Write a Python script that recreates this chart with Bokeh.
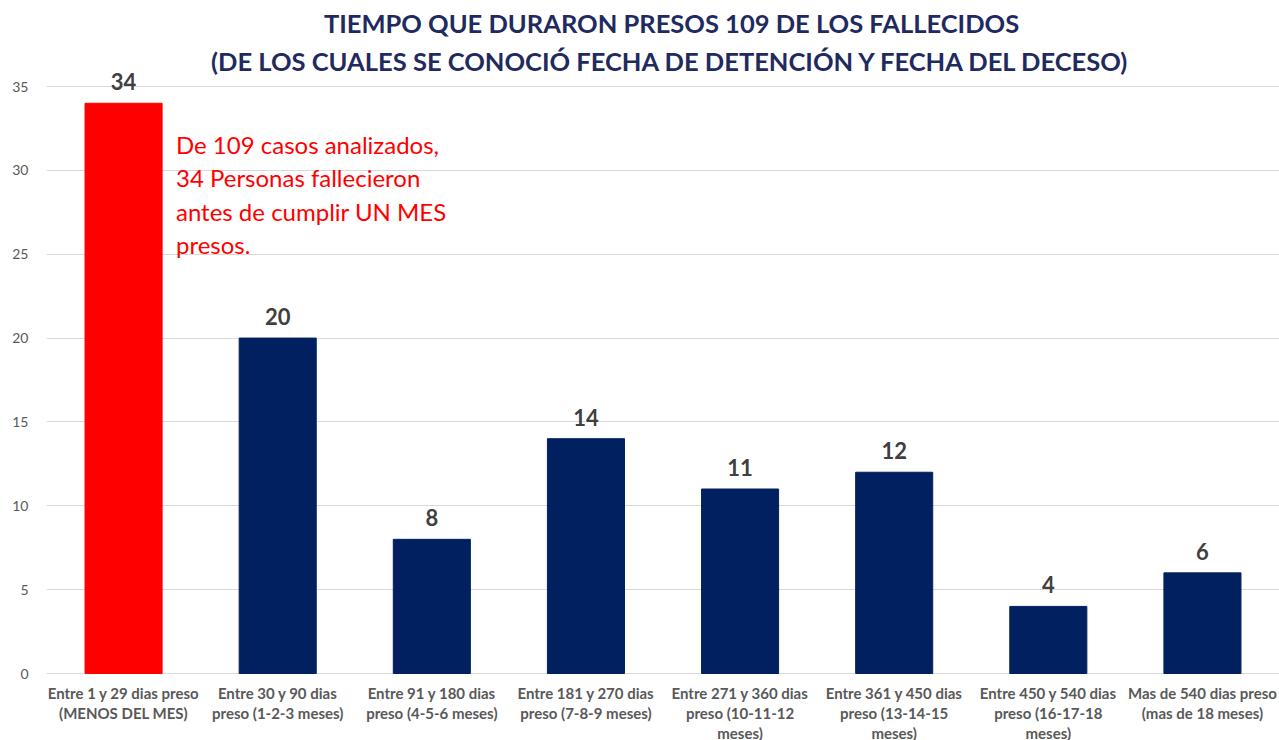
from bokeh.plotting import figure
from bokeh.models import Range1d, Label, LabelSet, ColumnDataSource, FixedTicker
from bokeh.core.properties import value
from bokeh.embed import file_html
from bokeh.resources import INLINE

categories = [
    "Entre 1 y 29 dias preso (MENOS DEL MES)",
    "Entre 30 y 90 dias preso (1-2-3 meses)",
    "Entre 91 y 180 dias preso (4-5-6 meses)",
    "Entre 181 y 270 dias preso (7-8-9 meses)",
    "Entre 271 y 360 dias preso (10-11-12 meses)",
    "Entre 361 y 450 dias preso (13-14-15 meses)",
    "Entre 450 y 540 dias preso (16-17-18 meses)",
    "Mas de 540 dias preso (mas de 18 meses)",
]
tick_labels = [
    "Entre 1 y 29 dias preso\n(MENOS DEL MES)",
    "Entre 30 y 90 dias\npreso (1-2-3 meses)",
    "Entre 91 y 180 dias\npreso (4-5-6 meses)",
    "Entre 181 y 270 dias\npreso (7-8-9 meses)",
    "Entre 271 y 360 dias\npreso (10-11-12\nmeses)",
    "Entre 361 y 450 dias\npreso (13-14-15\nmeses)",
    "Entre 450 y 540 dias\npreso (16-17-18\nmeses)",
    "Mas de 540 dias preso\n(mas de 18 meses)",
]
values = [34, 20, 8, 14, 11, 12, 4, 6]
y_ticks = [0, 5, 10, 15, 20, 25, 30, 35]
bar_colors = ["#FF0000"] + ["#002060"] * 7

title_lines = ["TIEMPO QUE DURARON PRESOS 109 DE LOS FALLECIDOS",
               "(DE LOS CUALES SE CONOCIÓ FECHA DE DETENCIÓN Y FECHA DEL DECESO)"]
note_text = ("De 109 casos analizados,\n34 Personas fallecieron\n"
             "antes de cumplir UN MES\npresos.")

FONT = "Lato"

# layout: the frame covers the whole canvas height so no text gets clipped
W, H = 1279, 740
ZERO_PX, TOP_PX = 673, 86          # pixel rows of value 0 and value 35
ppu = (ZERO_PX - TOP_PX) / y_ticks[-1]
y_start = -(H - ZERO_PX) / ppu
y_end = y_ticks[-1] + TOP_PX / ppu

# split the tick labels into lines so each line is centred on its own
split = [t.split("\n") + [""] * (3 - len(t.split("\n"))) for t in tick_labels]
data = dict(cat=categories, val=values, color=bar_colors,
            lbl=[str(v) for v in values], zero=[0] * len(values))
for k in range(3):
    data[f"line{k}"] = [s[k] for s in split]
src = ColumnDataSource(data)

p = figure(x_range=categories, y_range=Range1d(y_start, y_end),
           width=W, height=H, output_backend="svg", toolbar_location=None,
           min_border_left=46, min_border_right=0, min_border_top=0,
           min_border_bottom=0)

p.vbar(x="cat", top="val", width=0.5, color="color", source=src)

p.add_layout(LabelSet(x="cat", y="val", text="lbl", source=src, text_align="center",
                      text_baseline="bottom", text_font=value(FONT),
                      text_font_style="bold", text_font_size="22px",
                      text_color="#404040", y_offset=13))

for k in range(3):
    p.add_layout(LabelSet(x="cat", y="zero", text=f"line{k}", source=src,
                          text_align="center", text_baseline="middle",
                          text_font=value(FONT), text_font_style="bold",
                          text_font_size="15px", text_color="#595959",
                          y_offset=-19 - 20 * k))

p.add_layout(Label(x=0.84, y=32.4, text=note_text, text_font=FONT, text_font_size="24px",
                   text_color="#FF0000", text_baseline="top", text_align="left",
                   text_line_height=1.15))

for i, line in enumerate(title_lines):
    p.add_layout(Label(x=625, y=H - 22 - 38 * i, x_units="screen", y_units="screen",
                       text=line, text_font=FONT, text_font_size="25.5px",
                       text_font_style="bold", text_color="#1F2A5E",
                       text_align="center", text_baseline="middle"))

p.xaxis.visible = False

p.yaxis.ticker = FixedTicker(ticks=y_ticks)
p.yaxis.major_label_text_font = FONT
p.yaxis.major_label_text_font_size = "14px"
p.yaxis.major_label_text_color = "#595959"
p.yaxis.axis_line_color = None
p.yaxis.major_tick_line_color = None
p.yaxis.minor_tick_line_color = None
p.yaxis.major_label_standoff = 12

p.xgrid.grid_line_color = None
p.ygrid.grid_line_color = "#D9D9D9"
p.outline_line_color = None

open("out.html", "w").write(file_html(p, INLINE))
